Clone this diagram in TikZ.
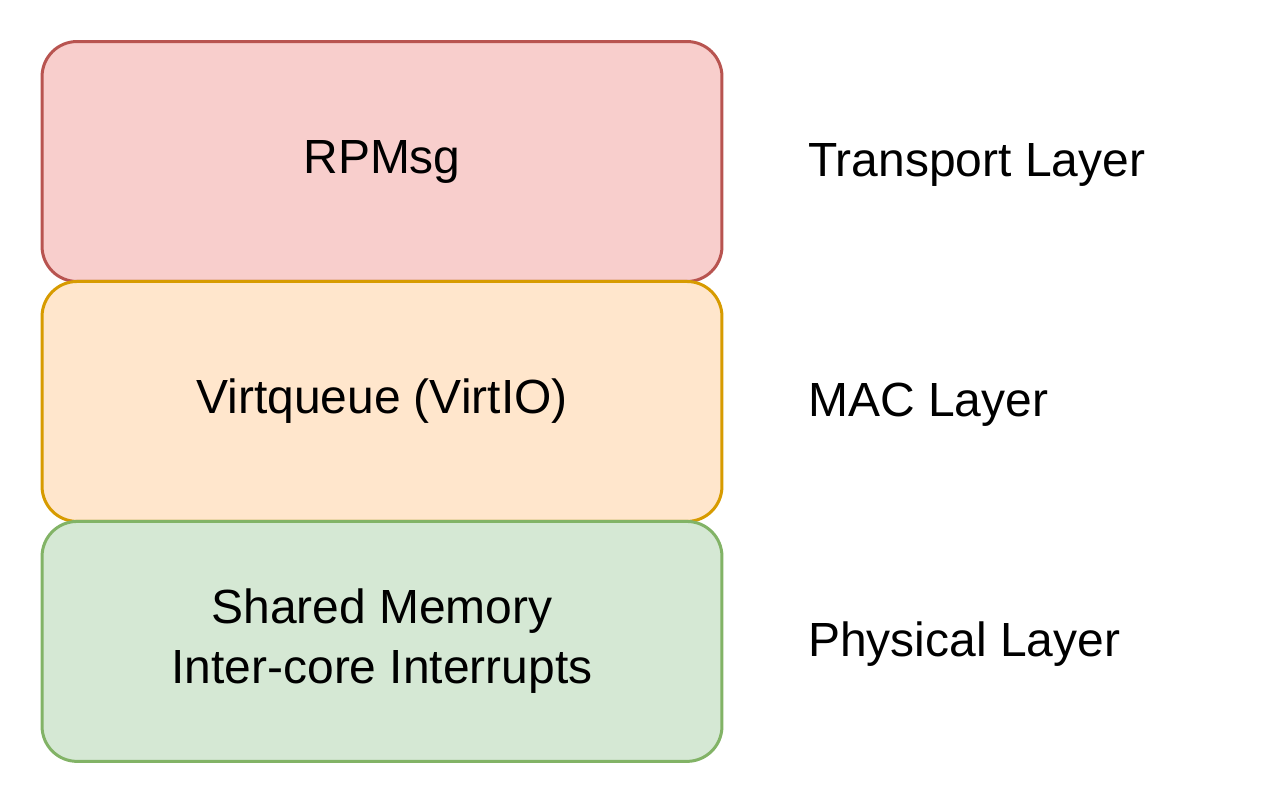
\documentclass[tikz,border=0pt]{standalone}
\usepackage{fontspec}
\setmainfont{Liberation Sans}
\usetikzlibrary{positioning}
\definecolor{rpred}{HTML}{F8CECC}
\definecolor{rpredline}{HTML}{B85450}
\definecolor{vqorange}{HTML}{FFE6CC}
\definecolor{vqorangeline}{HTML}{D79B00}
\definecolor{shgreen}{HTML}{D5E8D4}
\definecolor{shgreenline}{HTML}{82B366}
\tikzset{
    layerbox/.style={rectangle, draw, line width=0.06cm, rounded corners=0.7cm, outer sep=0pt,
        minimum width=13.6cm, minimum height=4.8cm, align=center,
        font=\fontsize{27.3}{34}\selectfont},
    transportbox/.style={layerbox, fill=rpred, draw=rpredline},
    macbox/.style={layerbox, fill=vqorange, draw=vqorangeline},
    physbox/.style={layerbox, fill=shgreen, draw=shgreenline},
    layername/.style={inner sep=0pt, anchor=west, yshift=-0.06cm, font=\fontsize{27.3}{34}\selectfont}
}
\begin{document}
\begin{tikzpicture}[x=0.02cm, y=-0.02cm]
                \useasboundingbox (0,0) rectangle (1284,804);
                % stacked layers
                \node[transportbox] (rpmsg) at (382, 161.5) {RPMsg};
                \node[macbox, below=0cm of rpmsg] (virtq) {Virtqueue (VirtIO)};
                \node[physbox, below=0cm of virtq] (shmem) {Shared Memory\\Inter-core Interrupts};

                % layer names
                \node[layername, right=1.72cm of rpmsg] (transport) {Transport Layer};
                \node[layername, right=1.72cm of virtq] (mac) {MAC Layer};
                \node[layername, right=1.72cm of shmem] (physical) {Physical Layer};
            \end{tikzpicture}
\end{document}
